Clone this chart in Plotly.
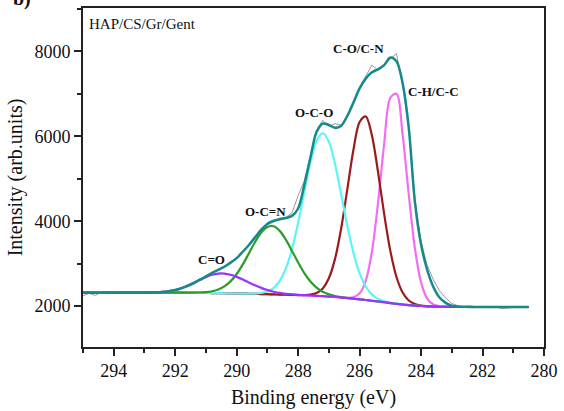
import plotly.graph_objects as go

# Binding energy grid (eV)
ENERGY = [295.0, 294.8, 294.6, 294.4, 294.2, 294.0, 293.8, 293.6, 293.4, 293.2,
          293.0, 292.8, 292.6, 292.4, 292.2, 292.0, 291.8, 291.6, 291.4, 291.2,
          291.0, 290.8, 290.6, 290.4, 290.2, 290.0, 289.8, 289.6, 289.4, 289.2,
          289.0, 288.8, 288.6, 288.4, 288.2, 288.0, 287.8, 287.6, 287.4, 287.2,
          287.0, 286.8, 286.6, 286.4, 286.2, 286.0, 285.8, 285.6, 285.4, 285.2,
          285.0, 284.8, 284.6, 284.4, 284.2, 284.0, 283.8, 283.6, 283.4, 283.2,
          283.0, 282.8, 282.6, 282.4, 282.2, 282.0, 281.8, 281.6, 281.4, 281.2,
          281.0, 280.8, 280.6, 280.5]

# Shirley-type background (intensity)
BACKGROUND = [2315, 2315, 2315, 2315, 2315, 2315, 2315, 2315, 2315, 2315,
              2315, 2315, 2315, 2315, 2315, 2315, 2315, 2314, 2312, 2311,
              2309, 2307, 2305, 2302, 2299, 2296, 2293, 2290, 2287, 2283,
              2279, 2275, 2271, 2267, 2263, 2259, 2254, 2248, 2241, 2233,
              2224, 2213, 2201, 2188, 2173, 2158, 2142, 2125, 2107, 2089,
              2070, 2052, 2036, 2022, 2010, 2001, 1994, 1988, 1984, 1981,
              1979, 1978, 1978, 1978, 1978, 1978, 1978, 1978, 1978, 1978,
              1978, 1978, 1978, 1978]

# Fitted envelope (sum curve)
ENVELOPE = [2315, 2315, 2315, 2315, 2315, 2315, 2315, 2315, 2315, 2316,
            2317, 2319, 2324, 2334, 2351, 2378, 2420, 2475, 2543, 2621,
            2702, 2780, 2852, 2926, 3020, 3130, 3280, 3440, 3620, 3800,
            3935, 4005, 4045, 4075, 4125, 4300, 4850, 5500, 6100, 6300,
            6270, 6200, 6250, 6480, 6800, 7130, 7360, 7510, 7580, 7680,
            7860, 7770, 7250, 6200, 4450, 3450, 2850, 2450, 2200, 2075,
            2010, 1990, 1982, 1978, 1978, 1978, 1978, 1978, 1978, 1978,
            1978, 1978, 1978, 1978]

# Measured spectrum
RAW = [2240, 2300, 2250, 2330, 2290, 2320, 2300, 2335, 2305, 2325,
       2300, 2340, 2320, 2355, 2340, 2300, 2430, 2500, 2570, 2640,
       2690, 2790, 2870, 2940, 3050, 3120, 3300, 3440, 3660, 3780,
       3970, 4030, 4070, 4090, 4200, 4600, 4950, 5550, 6150, 6380,
       6230, 6300, 6260, 6500, 6760, 7150, 7420, 7680, 7560, 7700,
       7820, 7950, 7200, 6180, 4520, 3520, 2960, 2620, 2360, 2190,
       2060, 2010, 1990, 2010, 1975, 1995, 1970, 1990, 1945, 1950,
       1975, 1985, 1960, 1990]

# Component peaks: heights above background, starting at the given energy
CO_START = 293.2      # C=O
CO_HEIGHT = [1, 2, 4, 9, 19, 36, 63, 104, 159, 227, 301, 373, 430, 460, 463,
             438, 392, 332, 266, 202, 145, 98, 63, 38, 22, 12, 6, 3, 1, 1]
OCN_START = 291.6     # O-C=N
OCN_HEIGHT = [1, 3, 8, 19, 41, 85, 161, 283, 459, 689, 955, 1224, 1449, 1586,
              1605, 1501, 1298, 1037, 766, 523, 330, 193, 104, 52, 24, 10, 4, 1]
OCO_START = 289.8     # O-C-O
OCO_HEIGHT = [1, 3, 8, 24, 63, 150, 320, 619, 1081, 1706, 2433, 3135, 3650,
              3840, 3650, 3135, 2433, 1706, 1081, 619, 320, 150, 63, 24, 8, 3, 1]
CON_START = 288.0     # C-O/C-N
CON_HEIGHT = [1, 6, 21, 65, 180, 432, 899, 1628, 2563, 3510, 4180, 4328, 3898,
              3052, 2078, 1231, 633, 284, 110, 37, 11, 3, 1]
CH_START = 286.6      # C-H/C-C
CH_HEIGHT = [1, 7, 36, 143, 454, 1151, 2323, 3741, 4840, 4950, 4004, 2603,
             1348, 557, 183, 48, 10, 2]

# Peak labels: text, energy, intensity
LABELS = [("C=O", 290.83, 3100), ("O-C=N", 289.07, 4240), ("O-C-O", 287.49, 6555),
          ("C-O/C-N", 286.03, 8060), ("C-H/C-C", 283.6, 7058)]


def on_grid(start, heights):
    keys = [round(e, 1) for e in ENERGY]
    i0 = keys.index(round(start, 1))
    out = list(BACKGROUND)
    for k, h in enumerate(heights):
        out[i0 + k] += h
    return out


fig = go.Figure()
fig.add_trace(go.Scatter(x=ENERGY, y=RAW, mode="lines",
                         line=dict(color="#9a9a9a", width=1)))
comps = [
    (CH_START, CH_HEIGHT, "#f46cf4"),
    (CON_START, CON_HEIGHT, "#9b1b1b"),
    (OCO_START, OCO_HEIGHT, "#5cf5f5"),
    (OCN_START, OCN_HEIGHT, "#2a9d2a"),
    (CO_START, CO_HEIGHT, "#9933ff"),
]
for start, heights, color in comps:
    fig.add_trace(go.Scatter(x=ENERGY, y=on_grid(start, heights), mode="lines",
                             line=dict(color=color, width=2.2, shape="spline", smoothing=0.9)))
fig.add_trace(go.Scatter(x=ENERGY, y=ENVELOPE, mode="lines",
                         line=dict(color="#16898a", width=2.5, shape="spline", smoothing=0.9)))

annotations = []
for text, ex, iy in LABELS:
    annotations.append(dict(x=ex, y=iy, xref="x", yref="y", text="<b>%s</b>" % text,
                            showarrow=False, font=dict(size=13, color="#111")))
annotations.append(dict(x=0.009, y=0.952, xref="paper", yref="paper", text="HAP/CS/Gr/Gent",
                        showarrow=False, xanchor="left", yanchor="middle",
                        font=dict(size=15, color="#111")))
annotations.append(dict(x=-0.157, y=0.988, xref="paper", yref="paper", text="<b>b)</b>",
                        showarrow=False, xanchor="left", yanchor="bottom",
                        font=dict(size=20, color="#111")))

axis_common = dict(showline=True, linecolor="#222", linewidth=1.6, mirror=True,
                   ticks="outside", ticklen=7, tickwidth=1.5, tickcolor="#222",
                   showgrid=False, zeroline=False,
                   tickfont=dict(size=18, color="#111"))

fig.update_layout(
    width=564, height=411,
    margin=dict(l=83, r=14, t=6, b=60),
    paper_bgcolor="white", plot_bgcolor="white",
    showlegend=False,
    font=dict(family="Liberation Serif", color="#111"),
    annotations=annotations,
    xaxis=dict(range=[295, 280], dtick=2, tick0=280,
               minor=dict(dtick=1, tick0=280, ticks="outside", ticklen=4,
                          tickwidth=1.5, tickcolor="#222", showgrid=False),
               title=dict(text="Binding energy (eV)", font=dict(size=20), standoff=10),
               **axis_common),
    yaxis=dict(range=[1035, 9025], dtick=2000, tick0=0,
               minor=dict(dtick=1000, tick0=0, ticks="outside", ticklen=4,
                          tickwidth=1.5, tickcolor="#222", showgrid=False),
               title=dict(text="Intensity (arb.units)", font=dict(size=20), standoff=7),
               **axis_common),
)

fig.write_html("out.html")
